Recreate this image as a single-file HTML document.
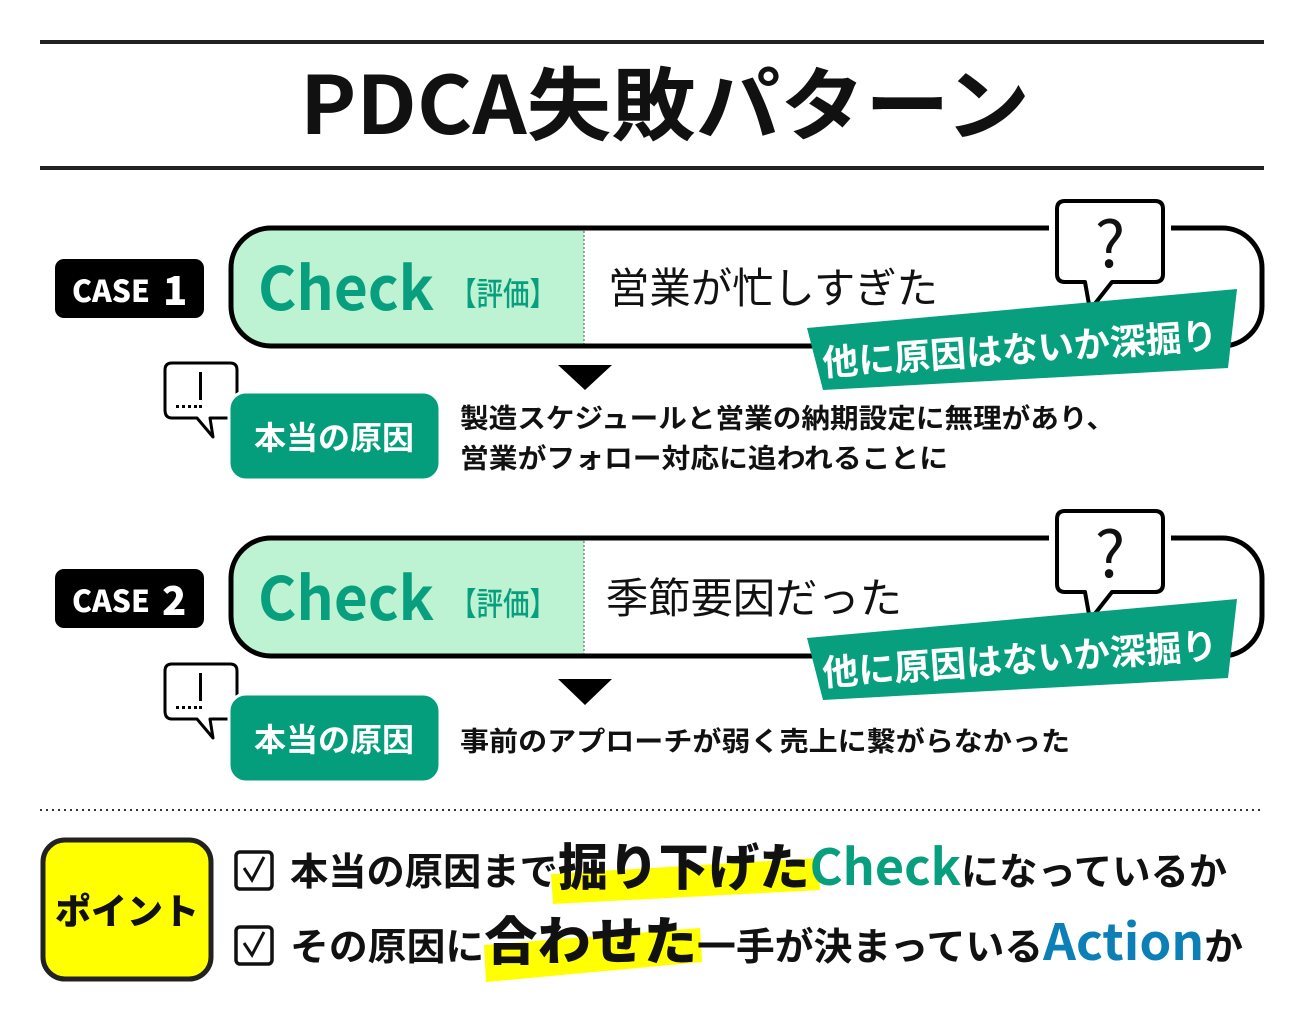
<!DOCTYPE html>
<html><head><meta charset="utf-8"><style>
html,body{margin:0;padding:0;background:#fff;}
svg{display:block}
text{font-family:"Liberation Sans","Noto Sans CJK JP",sans-serif;}
.j{font-family:"Noto Sans CJK JP",sans-serif;}
</style></head><body>
<svg width="1304" height="1021" viewBox="0 0 1304 1021" xmlns="http://www.w3.org/2000/svg">
<rect width="1304" height="1021" fill="#fff"/>
<rect x="40" y="40" width="1224" height="4" fill="#222"/>
<rect x="40" y="166" width="1224" height="4" fill="#222"/>
<text class="j" x="665" y="134" font-size="80" font-weight="700" text-anchor="middle" textLength="730" lengthAdjust="spacingAndGlyphs" fill="#111">PDCA失敗パターン</text>

<g id="case1">
<rect x="55" y="259" width="149" height="59" rx="9" fill="#000"/>
<text class="j" x="72" y="302" font-size="30" font-weight="900" fill="#fff">CASE</text>
<text class="j" x="163" y="305" font-size="40" font-weight="900" fill="#fff">1</text>
<path d="M272 229 H584 V345 H272 A40 40 0 0 1 232 305 V269 A40 40 0 0 1 272 229Z" fill="#bdf2d3"/>
<line x1="584" y1="231" x2="584" y2="345" stroke="#555" stroke-width="1" stroke-dasharray="2,2"/>
<rect x="231" y="228" width="1031" height="118" rx="40" fill="none" stroke="#000" stroke-width="5"/>
<text class="j" x="258" y="310" font-size="60" font-weight="700" fill="#079f7e" textLength="176" lengthAdjust="spacingAndGlyphs">Check</text>
<text class="j" x="450" y="305" font-size="32" font-weight="500" fill="#079f7e" textLength="106" lengthAdjust="spacingAndGlyphs">【評価】</text>
<text class="j" x="608" y="303" font-size="42" fill="#111" textLength="330" lengthAdjust="spacingAndGlyphs">営業が忙しすぎた</text>
<path d="M1065 201 H1155 Q1163 201 1163 209 V274 Q1163 282 1155 282 H1112 L1090 310 L1085 282 H1065 Q1057 282 1057 274 V209 Q1057 201 1065 201Z" fill="#fff" stroke="#fff" stroke-width="16" stroke-linejoin="round"/>
<path d="M1065 201 H1155 Q1163 201 1163 209 V274 Q1163 282 1155 282 H1112 L1090 310 L1085 282 H1065 Q1057 282 1057 274 V209 Q1057 201 1065 201Z" fill="#fff" stroke="#000" stroke-width="4" stroke-linejoin="round"/>
<text class="j" x="1110" y="267" font-size="64" text-anchor="middle" fill="#111">?</text>
<polygon points="807,328 1237,289 1228,368 823,390" fill="#079f7e"/>
<text class="j" x="1020" y="362" font-size="36" font-weight="700" fill="#fff" text-anchor="middle" transform="rotate(-4 1020 350)">他に原因はないか深掘り</text>
<polygon points="558,365 612,365 585,390" fill="#000"/>
<path d="M172 363 H230 Q237 363 237 370 V410 Q237 418 230 418 H210 L213 437 L197 418 H172 Q165 418 165 410 V370 Q165 363 172 363Z" fill="#fff" stroke="#000" stroke-width="3" stroke-linejoin="round"/>
<rect x="199" y="372" width="3" height="28" fill="#000"/>
<g fill="#000"><rect x="176" y="405" width="3" height="3"/><rect x="182" y="405" width="3" height="3"/><rect x="188" y="405" width="3" height="3"/><rect x="194" y="405" width="3" height="3"/><rect x="199" y="405" width="3" height="3"/></g>
<rect x="229" y="392" width="211" height="88" rx="17" fill="#049e7d" stroke="#fff" stroke-width="3"/>
<text class="j" x="334" y="449" font-size="32" font-weight="700" fill="#fff" text-anchor="middle">本当の原因</text>
<text class="j" x="460" y="428" font-size="27" font-weight="700" fill="#111" textLength="655" lengthAdjust="spacingAndGlyphs">製造スケジュールと営業の納期設定に無理があり、</text>
<text class="j" x="460" y="468" font-size="27" font-weight="700" fill="#111" textLength="488" lengthAdjust="spacingAndGlyphs">営業がフォロー対応に追われることに</text>
</g>

<g transform="translate(0,310)">
<rect x="55" y="259" width="149" height="59" rx="9" fill="#000"/>
<text class="j" x="72" y="302" font-size="30" font-weight="900" fill="#fff">CASE</text>
<text class="j" x="162" y="305" font-size="40" font-weight="900" fill="#fff">2</text>
<path d="M272 229 H584 V345 H272 A40 40 0 0 1 232 305 V269 A40 40 0 0 1 272 229Z" fill="#bdf2d3"/>
<line x1="584" y1="231" x2="584" y2="345" stroke="#555" stroke-width="1" stroke-dasharray="2,2"/>
<rect x="231" y="228" width="1031" height="118" rx="40" fill="none" stroke="#000" stroke-width="5"/>
<text class="j" x="258" y="310" font-size="60" font-weight="700" fill="#079f7e" textLength="176" lengthAdjust="spacingAndGlyphs">Check</text>
<text class="j" x="450" y="305" font-size="32" font-weight="500" fill="#079f7e" textLength="106" lengthAdjust="spacingAndGlyphs">【評価】</text>
<text class="j" x="606" y="303" font-size="42" fill="#111" textLength="296" lengthAdjust="spacingAndGlyphs">季節要因だった</text>
<path d="M1065 201 H1155 Q1163 201 1163 209 V274 Q1163 282 1155 282 H1112 L1090 310 L1085 282 H1065 Q1057 282 1057 274 V209 Q1057 201 1065 201Z" fill="#fff" stroke="#fff" stroke-width="16" stroke-linejoin="round"/>
<path d="M1065 201 H1155 Q1163 201 1163 209 V274 Q1163 282 1155 282 H1112 L1090 310 L1085 282 H1065 Q1057 282 1057 274 V209 Q1057 201 1065 201Z" fill="#fff" stroke="#000" stroke-width="4" stroke-linejoin="round"/>
<text class="j" x="1110" y="267" font-size="64" text-anchor="middle" fill="#111">?</text>
<polygon points="807,328 1237,289 1228,368 823,390" fill="#079f7e"/>
<text class="j" x="1020" y="362" font-size="36" font-weight="700" fill="#fff" text-anchor="middle" transform="rotate(-4 1020 350)">他に原因はないか深掘り</text>
</g>
<polygon points="558,679 612,679 585,705" fill="#000"/>
<path d="M172 664 H230 Q237 664 237 671 V711 Q237 719 230 719 H210 L213 738 L197 719 H172 Q165 719 165 711 V671 Q165 664 172 664Z" fill="#fff" stroke="#000" stroke-width="3" stroke-linejoin="round"/>
<rect x="199" y="673" width="3" height="28" fill="#000"/>
<g fill="#000"><rect x="176" y="706" width="3" height="3"/><rect x="182" y="706" width="3" height="3"/><rect x="188" y="706" width="3" height="3"/><rect x="194" y="706" width="3" height="3"/><rect x="199" y="706" width="3" height="3"/></g>
<rect x="229" y="694" width="211" height="88" rx="17" fill="#049e7d" stroke="#fff" stroke-width="3"/>
<text class="j" x="334" y="751" font-size="32" font-weight="700" fill="#fff" text-anchor="middle">本当の原因</text>
<text class="j" x="460" y="751" font-size="27" font-weight="700" fill="#111" textLength="610" lengthAdjust="spacingAndGlyphs">事前のアプローチが弱く売上に繋がらなかった</text>

<line x1="40" y1="810" x2="1264" y2="810" stroke="#333" stroke-width="2" stroke-dasharray="2,4"/>

<rect x="43" y="840" width="168" height="139" rx="22" fill="#ffff00" stroke="#222" stroke-width="5"/>
<text class="j" x="127" y="924" font-size="36" font-weight="900" fill="#111" text-anchor="middle">ポイント</text>

<polygon points="551,874 818,858 820,890 553,904" fill="#ffff00"/>
<polygon points="484,945 700,928 702,962 486,982" fill="#ffff00"/>
<rect x="236" y="852" width="36" height="37" rx="4" fill="none" stroke="#111" stroke-width="3.5"/>
<path d="M244 868 L252 880 L264 857" fill="none" stroke="#111" stroke-width="3"/>
<rect x="236" y="927" width="36" height="37" rx="4" fill="none" stroke="#111" stroke-width="3.5"/>
<path d="M244 943 L252 955 L264 932" fill="none" stroke="#111" stroke-width="3"/>
<text class="j" x="290" y="885" font-size="38" font-weight="700" fill="#111" textLength="937" lengthAdjust="spacingAndGlyphs">本当の原因まで<tspan font-size="50" font-weight="900">掘り下げた</tspan><tspan fill="#079f7e" font-size="50">Check</tspan>になっているか</text>
<text class="j" x="290" y="960" font-size="38" font-weight="700" fill="#111" textLength="953" lengthAdjust="spacingAndGlyphs">その原因に<tspan font-size="52" font-weight="900">合わせた</tspan>一手が決まっている<tspan fill="#0b7fb6" font-size="50">Action</tspan>か</text>
</svg>
</body></html>
